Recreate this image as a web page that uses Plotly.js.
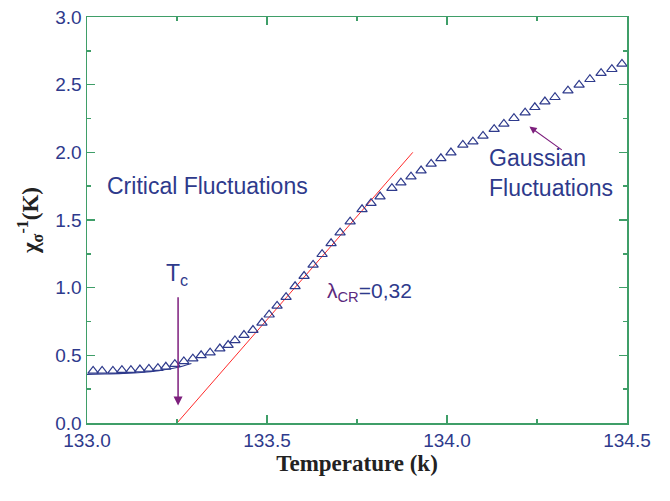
<!DOCTYPE html>
<html>
<head>
<meta charset="utf-8">
<script src="https://cdn.plot.ly/plotly-3.0.1.min.js"></script>
<style>html,body{margin:0;padding:0;background:#fff}#chart{width:670px;height:501px}</style>
</head>
<body>
<div id="chart"></div>
<script>
// Measured data (triangles)
var temperature = [133.017,133.042,133.072,133.097,133.122,133.147,133.172,133.197,133.219,133.244,
  133.269,133.294,133.317,133.342,133.369,133.392,133.411,133.436,133.461,133.486,
  133.506,133.528,133.553,133.578,133.603,133.628,133.653,133.678,133.703,133.731,
  133.764,133.789,133.814,133.847,133.872,133.900,133.928,133.956,133.983,134.011,
  134.044,134.072,134.100,134.131,134.158,134.186,134.217,134.244,134.272,134.300,
  134.336,134.367,134.397,134.428,134.458,134.486];
var chiInv = [0.385,0.385,0.385,0.390,0.390,0.395,0.400,0.405,0.415,0.435,
  0.455,0.475,0.500,0.520,0.550,0.576,0.610,0.650,0.687,0.740,
  0.800,0.865,0.930,1.010,1.086,1.168,1.247,1.328,1.406,1.488,
  1.579,1.624,1.673,1.735,1.776,1.820,1.865,1.914,1.956,1.998,
  2.055,2.079,2.121,2.171,2.210,2.252,2.293,2.333,2.375,2.407,
  2.456,2.498,2.540,2.585,2.614,2.653];
// Low-temperature fit curve (dark blue)
var lowFitX = [133.0, 133.05, 133.1, 133.15, 133.2, 133.25, 133.29];
var lowFitY = [0.36, 0.362, 0.366, 0.373, 0.387, 0.41, 0.44];
// Critical-region linear fit (red)
var critFitX = [133.25, 133.905];
var critFitY = [0.0, 2.0];
// Tick labels
var xTicks = [133.0, 133.5, 134.0, 134.5];
var yTicks = [0.0, 0.5, 1.0, 1.5, 2.0, 2.5, 3.0];

var navy = '#2e3a8c';
var green = '#3f9e68';
var purple = '#7d1f7d';
var sans = 'Liberation Sans, Arial, sans-serif';
var serif = 'Liberation Serif, Times New Roman, serif';

var traces = [
  {x: lowFitX, y: lowFitY, mode: 'lines', line: {color: navy, width: 1.2, shape: 'spline'}, hoverinfo: 'skip'},
  {x: critFitX, y: critFitY, mode: 'lines', line: {color: '#ff2a2a', width: 1}, hoverinfo: 'skip'},
  {x: temperature, y: chiInv, mode: 'markers',
   marker: {symbol: 'triangle-up-open', size: 9, color: navy, line: {color: navy, width: 1.2}}}
];

var axisCommon = {
  showline: true, linecolor: green, linewidth: 1.5, mirror: 'ticks',
  ticks: 'inside', ticklen: 8, tickwidth: 1.5, tickcolor: green,
  showgrid: false, zeroline: false,
  tickfont: {family: sans, size: 19, color: navy},
  tickformat: '.1f',
  minor: {ticks: 'inside', ticklen: 4, tickwidth: 1.5, tickcolor: green}
};

var layout = {
  width: 670, height: 501,
  margin: {l: 87, r: 43, t: 17, b: 78},
  paper_bgcolor: '#fff', plot_bgcolor: '#fff',
  showlegend: false,
  xaxis: Object.assign({}, axisCommon, {
    range: [133.0, 134.5], tickvals: xTicks, minor: Object.assign({}, axisCommon.minor, {dtick: 0.25, tick0: 133.0}),
    title: {text: '<b>Temperature (k)</b>', font: {family: serif, size: 23, color: '#222'}, standoff: 1}
  }),
  yaxis: Object.assign({}, axisCommon, {
    range: [0, 3.0], tickvals: yTicks, minor: Object.assign({}, axisCommon.minor, {dtick: 0.25, tick0: 0}),
    title: {text: '<b>χ<sub>σ</sub><sup>-1</sup>(K)</b>', font: {family: serif, size: 23, color: '#222'}, standoff: 10}
  }),
  annotations: [
    {x: 133.051, y: 1.75, xref: 'x', yref: 'y', xanchor: 'left', yanchor: 'middle', showarrow: false,
     text: 'Critical Fluctuations', font: {family: sans, size: 23, color: navy}},
    {x: 134.11, y: 1.85, xref: 'x', yref: 'y', xanchor: 'left', yanchor: 'middle', showarrow: false, align: 'left',
     text: 'Gaussian<br>Fluctuations', font: {family: sans, size: 23, color: navy}},
    {x: 133.66, y: 0.97, xref: 'x', yref: 'y', xanchor: 'left', yanchor: 'middle', showarrow: false,
     text: '<span style="color:#5b2a7e">λ<sub>CR</sub></span>=0,32', font: {family: sans, size: 21, color: navy}},
    {x: 133.25, y: 1.1, xref: 'x', yref: 'y', xanchor: 'center', yanchor: 'middle', showarrow: false,
     text: 'T<sub>c</sub>', font: {family: sans, size: 23, color: navy}},
    {x: 133.253, y: 0.13, ax: 133.253, ay: 0.94, xref: 'x', yref: 'y', axref: 'x', ayref: 'y',
     showarrow: true, text: '', arrowhead: 2, arrowsize: 1.2, arrowwidth: 1.5, arrowcolor: purple},
    {x: 134.229, y: 2.19, ax: 134.323, ay: 2.01, xref: 'x', yref: 'y', axref: 'x', ayref: 'y',
     showarrow: true, text: '', arrowhead: 2, arrowsize: 1.3, arrowwidth: 1.1, arrowcolor: purple}
  ]
};

Plotly.newPlot('chart', traces, layout, {staticPlot: true, displayModeBar: false});
</script>
</body>
</html>
